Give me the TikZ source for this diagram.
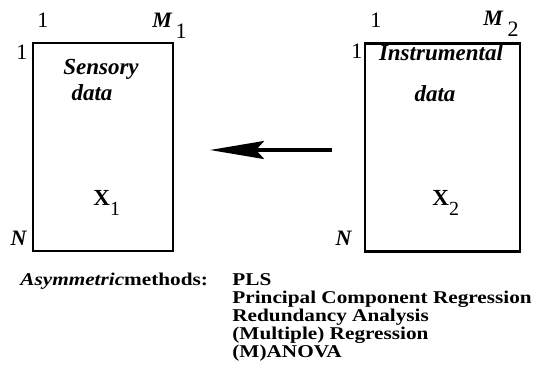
\documentclass[tikz,border=0pt]{standalone}
\usepackage{fontspec}
\setmainfont{Liberation Serif}
\newfontfamily\listfont[FakeStretch=1.18]{Liberation Serif}
\usetikzlibrary{arrows.meta}

\tikzset{
  databox/.style={draw=black,line width=1.3pt,minimum height=104pt,inner sep=0pt},
  idx/.style={anchor=base,inner sep=0pt,font=\fontsize{11}{13}\selectfont},
  boxlabel/.style={anchor=base,inner sep=0pt,font=\fontsize{11.5}{13}\selectfont\bfseries\itshape},
  matlabel/.style={anchor=base west,inner sep=0pt,font=\fontsize{11.5}{13}\selectfont\bfseries},
  methodtext/.style={anchor=base west,inner sep=0pt,font=\listfont\fontsize{9}{10}\selectfont\bfseries},
}

\begin{document}
\begin{tikzpicture}[x=0.5pt,y=-0.5pt]
\useasboundingbox (0,0) rectangle (538,381);
% sensory block
\node[databox,minimum width=70pt] (sensory-box) at (103,147) {};
\node[idx] (sensory-col-first) at (43,27) {1};
\node[idx,anchor=base west] (sensory-col-last) at (152,27) {\textbf{\textit{M}}\hspace{1.5pt}\raisebox{-5.5pt}{1}};
\node[idx] (sensory-row-first) at (22,59) {1};
\node[idx] (sensory-row-last) at (19,245) {\textbf{\textit{N}}};
\node[boxlabel] (sensory-name) at (101,74) {Sensory};
\node[boxlabel] (sensory-data) at (92,100) {data};
\node[matlabel] (sensory-mat) at (93,205) {X\raisebox{-5pt}{\mdseries\fontsize{10}{12}\selectfont 1}};
% instrumental block
\node[databox,minimum width=77.5pt] (instr-box) at (442.5,147.5) {};
\node[idx] (instr-col-first) at (376,27) {1};
\node[idx,anchor=base west] (instr-col-last) at (483,25) {\textbf{\textit{M}}\hspace{2pt}\raisebox{-5.5pt}{2}};
\node[idx] (instr-row-first) at (357,58) {1};
\node[idx] (instr-row-last) at (344,245) {\textbf{\textit{N}}};
\node[boxlabel] (instr-name) at (441,60) {Instrumental};
\node[boxlabel] (instr-data) at (435,101) {data};
\node[matlabel] (instr-mat) at (432,205) {X\raisebox{-5pt}{\mdseries\fontsize{10}{12}\selectfont 2}};
% prediction direction
\coordinate (arrow-tail) at (332,150);
\coordinate (arrow-head) at (210,150);
\draw[-{Stealth[length=27pt,width=9pt,inset=4pt]},line width=1.6pt] (arrow-tail) -- (arrow-head);
% methods
\node[methodtext] (method-title) at (20,285) {\textit{Asymmetric}methods:};
\node[methodtext] (method-pls) at (232,285) {PLS};
\node[methodtext] (method-pcr) at (232,303) {Principal Component Regression};
\node[methodtext] (method-ra) at (232,321) {Redundancy Analysis};
\node[methodtext] (method-mr) at (232,339) {(Multiple) Regression};
\node[methodtext] (method-anova) at (232,357) {(M)ANOVA};
\end{tikzpicture}
\end{document}
